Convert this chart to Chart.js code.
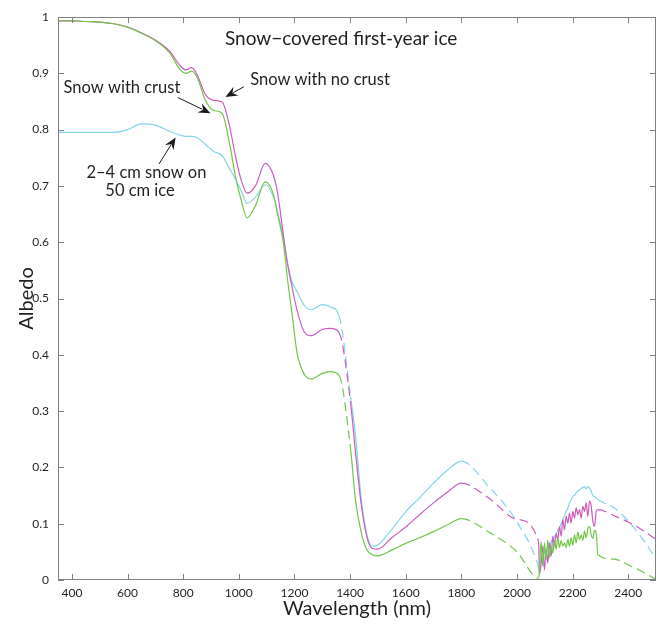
<!DOCTYPE html>
<html>
<head>
<meta charset="utf-8">
<script src="https://cdn.jsdelivr.net/npm/chart.js@4.4.1/dist/chart.umd.min.js"></script>
<style>
  html, body { margin: 0; padding: 0; background: #fff; }
  #wrap { width: 659px; height: 624px; }
</style>
</head>
<body>
<div id="wrap"><canvas id="albedo"></canvas></div>
<script>
// wavelength grid (nm) shared by the three spectra
const wavelengths = [
  350, 400, 450, 500, 550, 600, 650, 700, 750,
  790, 810, 830, 850, 880, 910, 940, 965, 990, 1010,
  1030, 1060, 1095, 1125, 1140, 1160, 1175, 1190, 1210, 1235,
  1260, 1300, 1330, 1360, 1402, 1420, 1440, 1460, 1480, 1500,
  1550, 1600, 1650, 1700, 1750, 1800, 1900, 2000, 2078,
  2081, 2087, 2093, 2099, 2105, 2111, 2117, 2123, 2129, 2135,
  2141, 2147, 2153, 2159, 2165, 2171, 2177, 2183, 2189, 2195,
  2201, 2207, 2213, 2219, 2225, 2231, 2237, 2243, 2249, 2255,
  2261, 2267, 2273, 2279, 2285,
  2291, 2350, 2400, 2450, 2500
];

// Snow with no crust (magenta)
const noCrust = [
  .993, .993, .992, .991, .988, .982, .972, .959, .940,
  .913, .906, .910, .898, .862, .852, .849, .810, .748, .708,
  .687, .700, .740, .718, .686, .614, .562, .524, .478, .441,
  .434, .445, .447, .440, .314, .225, .135, .078, .056, .055,
  .075, .094, .116, .137, .156, .172, .145, .108, .068,
  .010, .030, .060, .018, .054, .030, .066, .042, .078, .060,
  .083, .071, .095, .078, .107, .089, .113, .101, .119, .101,
  .122, .110, .128, .116, .125, .110, .131, .122, .137, .113,
  .140, .131, .104, .095, .122,
  .125, .114, .103, .089, .072
];

// Snow with crust (green)
const withCrust = [
  .993, .993, .992, .991, .988, .982, .971, .958, .937,
  .906, .900, .904, .893, .852, .834, .829, .780, .712, .672,
  .643, .665, .707, .684, .648, .600, .535, .479, .402, .366,
  .357, .367, .370, .364, .232, .140, .085, .054, .045, .043,
  .053, .065, .075, .086, .098, .109, .085, .050, .003,
  .020, .068, .025, .066, .036, .071, .040, .060, .048, .070,
  .055, .075, .058, .070, .060, .066, .058, .072, .060, .075,
  .062, .080, .066, .085, .072, .080, .070, .087, .075, .092,
  .095, .080, .074, .088, .083,
  .045, .037, .027, .015, .001
];

// 2-4 cm snow on 50 cm ice (cyan)
const thinSnow = [
  .795, .795, .795, .795, .795, .800, .810, .808, .797,
  .790, .788, .788, .786, .774, .761, .754, .732, .710, .690,
  .669, .680, .702, .680, .653, .608, .564, .532, .512, .488,
  .480, .489, .485, .470, .325, .255, .145, .082, .060, .062,
  .090, .121, .146, .172, .195, .211, .165, .103, .022,
  .015, .040, .025, .055, .040, .062, .055, .070, .068, .078,
  .080, .089, .092, .100, .107, .115, .122, .128, .137, .142,
  .149, .150, .155, .158, .160, .163, .164, .166, .162, .166,
  .163, .158, .150, .148, .146,
  .143, .128, .105, .074, .038
];

// wavelength ranges where the spectra are drawn dashed
const dashedRanges = [[1360, 1402], [1800, 2078], [2291, 2500]];

const xTicks = [400, 600, 800, 1000, 1200, 1400, 1600, 1800, 2000, 2200, 2400];

const FONT = 'Lato, "Open Sans", sans-serif';
const axisColor = '#808080';
const textColor = '#231f20';

function toPoints(vals) {
  return vals.map((v, i) => ({ x: wavelengths[i], y: v }));
}

function isDashed(ctx) {
  const a = ctx.p0.parsed.x, b = ctx.p1.parsed.x;
  return dashedRanges.some(r => a >= r[0] && b <= r[1]);
}

function series(label, vals, color) {
  return {
    label: label,
    data: toPoints(vals),
    borderColor: color,
    backgroundColor: color,
    borderWidth: 1.2,
    pointRadius: 0,
    fill: false,
    tension: 0.4,
    cubicInterpolationMode: 'monotone',
    segment: { borderDash: ctx => isDashed(ctx) ? [9, 5] : undefined }
  };
}

// text labels and arrows, placed in data coordinates (wavelength, albedo)
const notes = [
  { text: 'Snow\u2212covered first-year ice', x: 1368, y: 0.961, size: 19 },
  { text: 'Snow with no crust', x: 1292, y: 0.889, size: 16.5 },
  { text: 'Snow with crust', x: 580, y: 0.874, size: 16.5 },
  { text: '2\u20134 cm snow on', x: 668, y: 0.724, size: 16.5 },
  { text: '50 cm ice', x: 645, y: 0.691, size: 16.5 }
];
const arrows = [
  { from: [1018, 0.876], to: [952, 0.858] },
  { from: [781, 0.857], to: [898, 0.829] },
  { from: [713, 0.739], to: [773, 0.786] }
];

const framePlugin = {
  id: 'framePlugin',
  afterDraw(chart) {
    const { ctx, chartArea: a } = chart;
    const x = chart.scales.x, y = chart.scales.y;
    ctx.save();
    ctx.strokeStyle = axisColor;
    ctx.lineWidth = 1;
    ctx.strokeRect(Math.round(a.left) + 0.5, Math.round(a.top) + 0.5,
      Math.round(a.right - a.left) - 1, Math.round(a.bottom - a.top) - 1);
    const tl = 6;
    ctx.beginPath();
    x.ticks.forEach(t => {
      const px = Math.round(x.getPixelForValue(t.value)) + 0.5;
      ctx.moveTo(px, a.bottom); ctx.lineTo(px, a.bottom - tl);
      ctx.moveTo(px, a.top); ctx.lineTo(px, a.top + tl);
    });
    y.ticks.forEach(t => {
      const py = Math.round(y.getPixelForValue(t.value)) + 0.5;
      ctx.moveTo(a.left, py); ctx.lineTo(a.left + tl, py);
      ctx.moveTo(a.right, py); ctx.lineTo(a.right - tl, py);
    });
    ctx.stroke();

    ctx.fillStyle = textColor;
    ctx.textAlign = 'center';
    ctx.textBaseline = 'middle';
    notes.forEach(n => {
      ctx.font = n.size + 'px ' + FONT;
      ctx.fillText(n.text, x.getPixelForValue(n.x), y.getPixelForValue(n.y));
    });

    ctx.strokeStyle = '#1a1a1a';
    ctx.fillStyle = '#1a1a1a';
    ctx.lineWidth = 1;
    arrows.forEach(ar => {
      const x0 = x.getPixelForValue(ar.from[0]), y0 = y.getPixelForValue(ar.from[1]);
      const x1 = x.getPixelForValue(ar.to[0]), y1 = y.getPixelForValue(ar.to[1]);
      const ang = Math.atan2(y1 - y0, x1 - x0);
      const hl = 12, hw = 5;
      const bx = x1 - hl * Math.cos(ang), by = y1 - hl * Math.sin(ang);
      ctx.beginPath();
      ctx.moveTo(x0, y0); ctx.lineTo(bx + 3 * Math.cos(ang), by + 3 * Math.sin(ang));
      ctx.stroke();
      ctx.beginPath();
      ctx.moveTo(x1, y1);
      ctx.lineTo(bx + hw * Math.sin(ang), by - hw * Math.cos(ang));
      ctx.lineTo(x1 - (hl - 4) * Math.cos(ang), y1 - (hl - 4) * Math.sin(ang));
      ctx.lineTo(bx - hw * Math.sin(ang), by + hw * Math.cos(ang));
      ctx.closePath();
      ctx.fill();
    });
    ctx.restore();
  }
};

new Chart(document.getElementById('albedo'), {
  type: 'line',
  data: {
    datasets: [
      series('Snow with crust', withCrust, '#72c64a'),
      series('Snow with no crust', noCrust, '#cc5cbd'),
      series('2\u20134 cm snow on 50 cm ice', thinSnow, '#84d3ec')
    ]
  },
  options: {
    responsive: true,
    maintainAspectRatio: false,
    animation: false,
    layout: { padding: { top: 17, right: 3, left: 0, bottom: 0 } },
    plugins: {
      legend: { display: false },
      tooltip: { enabled: false }
    },
    scales: {
      x: {
        type: 'linear',
        min: 350,
        max: 2500,
        afterBuildTicks: axis => { axis.ticks = xTicks.map(v => ({ value: v })); },
        afterFit: scale => { scale.height = 44; },
        grid: { display: false, drawTicks: false },
        border: { display: false },
        ticks: {
          padding: 6,
          color: textColor,
          font: { family: FONT, size: 12 },
          maxRotation: 0,
          callback: v => String(v)
        },
        title: {
          display: true,
          text: 'Wavelength (nm)',
          color: textColor,
          font: { family: FONT, size: 20 },
          padding: { top: 0, bottom: 3 }
        }
      },
      y: {
        min: 0,
        max: 1,
        afterFit: scale => { scale.width = 58; },
        grid: { display: false, drawTicks: false },
        border: { display: false },
        ticks: {
          stepSize: 0.1,
          padding: 9,
          color: textColor,
          font: { family: FONT, size: 12 },
          callback: v => String(Math.round(v * 10) / 10)
        },
        title: {
          display: true,
          text: 'Albedo',
          color: textColor,
          font: { family: FONT, size: 20 },
          padding: { top: 15, bottom: 0 }
        }
      }
    }
  },
  plugins: [framePlugin]
});
</script>
</body>
</html>
